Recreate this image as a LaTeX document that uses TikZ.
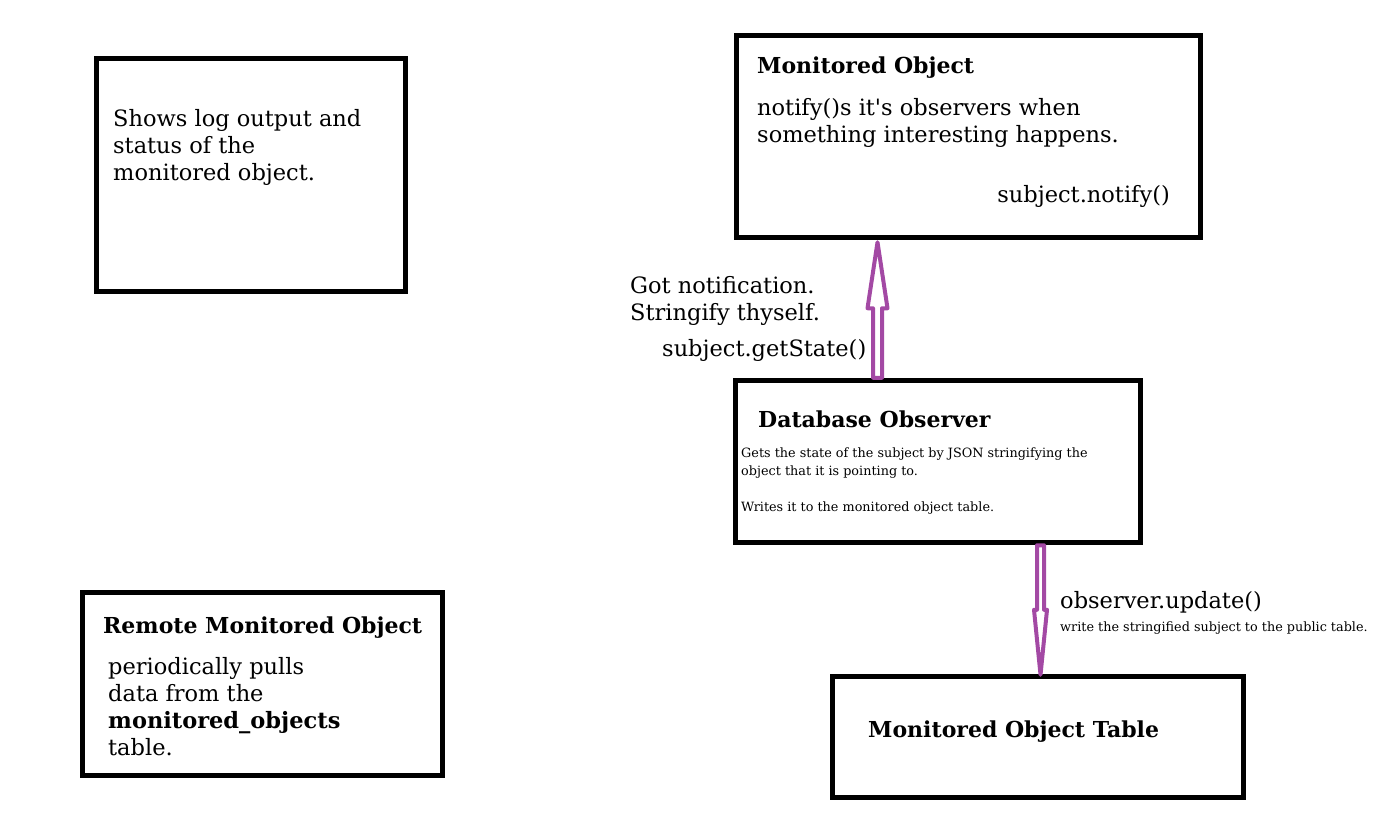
\documentclass[tikz,border=0pt]{standalone}
\usepackage{fontspec}
\setmainfont{DejaVu Serif}
\usetikzlibrary{calc}
\definecolor{purp}{HTML}{A349A4}

\begin{document}
\begin{tikzpicture}[x=1pt,y=-1pt,line join=round,
	box/.style={draw=black,line width=5.5pt,line join=miter,fill=white,inner sep=0pt},
	hollow/.style={draw=purp,line width=4pt,fill=white},
	head/.style={anchor=base west,inner sep=0pt,font=\fontsize{22}{27}\selectfont\bfseries},
	txt/.style={anchor=base west,inner sep=0pt,align=left,font=\fontsize{22.5}{27}\selectfont},
	small/.style={anchor=base west,inner sep=0pt,align=left,font=\fontsize{12.8}{18}\selectfont}]
	\useasboundingbox (0,0) rectangle (1399,830);

	% boxes
	\node[box,minimum width=309pt,minimum height=233pt] (logbox) at (251,175) {};
	\node[box,minimum width=464pt,minimum height=202pt] (monobj) at (968.5,136.5) {};
	\node[box,minimum width=405pt,minimum height=162pt] (dbobs) at (938,461.5) {};
	\node[box,minimum width=360pt,minimum height=183pt] (remote) at (262.5,684) {};
	\node[box,minimum width=411pt,minimum height=121pt] (montable) at (1038,737) {};

	% arrows
	\coordinate (upx) at (877.5,0);
	\coordinate (downx) at (1040.5,0);
	\coordinate (upfoot) at (dbobs.north -| upx);
	\coordinate (uptip) at ($(monobj.south -| upx)+(0,2)$);
	\coordinate (downfoot) at (dbobs.south -| downx);
	\coordinate (downtip) at ($(montable.north -| downx)+(0,1)$);
	\draw[hollow] ($(upfoot)+(-4.5,0)$) -- ($(uptip)+(-4.5,66)$) -- ($(uptip)+(-10,66)$) -- (uptip)
		-- ($(uptip)+(10,66)$) -- ($(uptip)+(4.5,66)$) -- ($(upfoot)+(4.5,0)$) -- cycle;
	\draw[hollow] ($(downfoot)+(-3.5,0)$) -- ($(downtip)+(-3.5,-65)$) -- ($(downtip)+(-6.5,-65)$) -- (downtip)
		-- ($(downtip)+(6.5,-65)$) -- ($(downtip)+(3.5,-65)$) -- ($(downfoot)+(3.5,0)$) -- cycle;

	% texts (multi-line nodes sit on their last baseline)
	\node[txt] (logtxt) at (113,180) {Shows log output and\\status of the\\monitored object.};

	\node[head] (montitle) at (757,73) {Monitored Object};
	\node[txt] (montxt) at (757,142) {notify()s it\textquotesingle s observers when\\something interesting happens.};
	\node[txt,anchor=base east] (notify) at (1170,202) {subject.notify()};

	\node[txt] (gotnote) at (630,320) {Got notification.\\Stringify thyself.};
	\node[txt] (getstate) at (662,356) {subject.getState()};

	\node[head] (dbtitle) at (758,427) {Database Observer};
	\node[small] (dbtxt) at (741,511) {Gets the state of the subject by JSON stringifying the\\object that it is pointing to.\\[18pt]Writes it to the monitored object table.};

	\node[txt] (update) at (1060,608) {observer.update()};
	\node[small] (updtxt) at (1060,631) {write the stringified subject to the public table.};

	\node[head] (remtitle) at (103,633) {Remote Monitored Object};
	\node[txt] (remtxt) at (108,755) {periodically pulls\\data from the\\\textbf{monitored\_objects}\\table.};

	\node[head] (tabtitle) at (868,737) {Monitored Object Table};
\end{tikzpicture}
\end{document}
